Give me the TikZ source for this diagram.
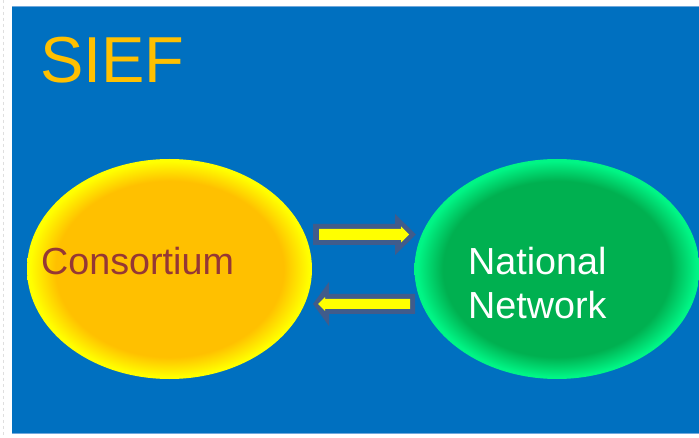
\documentclass[tikz,border=0pt]{standalone}
\usepackage{fontspec}
\setmainfont{Liberation Sans}
\usetikzlibrary{shapes.geometric}
\definecolor{bgblue}{HTML}{0070C0}
\definecolor{bgedge}{HTML}{6FA8DC}
\definecolor{orangeC}{HTML}{FFC000}
\definecolor{yellowC}{HTML}{FFFF00}
\definecolor{greenC}{HTML}{00B050}
\definecolor{greenEdge}{HTML}{00F585}
\definecolor{brownC}{HTML}{953735}
\definecolor{slateC}{HTML}{405C8C}
\pgfdeclareradialshading{ovalorange}{\pgfpoint{0bp}{0bp}}{color(0bp)=(orangeC); color(20bp)=(orangeC); color(24.5bp)=(yellowC); color(50bp)=(yellowC)}
\pgfdeclareradialshading{ovalgreen}{\pgfpoint{0bp}{0bp}}{color(0bp)=(greenC); color(20bp)=(greenC); color(24.5bp)=(greenEdge); color(50bp)=(greenEdge)}
\tikzset{
  oval/.style={ellipse, minimum width=285pt, minimum height=220pt, inner sep=0pt},
  bigtext/.style={font=\fontsize{37.7}{44}\selectfont, inner sep=0pt, anchor=base west},
  arrowout/.style={fill=slateC},
  arrowin/.style={fill=yellowC},
}
\begin{document}
\begin{tikzpicture}[x=1pt,y=-1pt]
\useasboundingbox (0,0) rectangle (699,438);
\fill[white] (0,0) rectangle (699,438);
\draw[gray!25, dashed, line width=0.8pt] (3,0) -- (3,438);
\fill[bgblue] (12,6) rectangle (699,433);
\draw[bgedge, line width=0.8pt] (12,6) -- (699,6);
\draw[bgedge, line width=0.8pt] (12,433) -- (699,433);

\node[font=\fontsize{65}{78}\selectfont, text=orangeC, inner sep=0pt, anchor=base west] (title) at (40,83) {SIEF};

\node[oval, shading=ovalorange] (cons) at (169.5,269) {};
\node[oval, shading=ovalgreen] (nat) at (557,269) {};

\node[bigtext, text=brownC] (consT) at (41,275) {Consortium};
\node[bigtext, text=white, align=left] (natT) at (468,319) {National\\Network};

% right-pointing arrow
\fill[arrowout] (313,224) -- (395,224) -- (395,214) -- (416,234.5) -- (395,255) -- (395,245) -- (313,245) -- cycle;
\fill[arrowin] (319,229) -- (401,229) -- (401,226.5) -- (409,234.5) -- (401,242.5) -- (401,240) -- (319,240) -- cycle;
% left-pointing arrow
\fill[arrowout] (415,294) -- (329,294) -- (329,282) -- (313,304) -- (329,326) -- (329,314) -- (415,314) -- cycle;
\fill[arrowin] (410,299) -- (325,299) -- (325,297) -- (318,304) -- (325,311) -- (325,309) -- (410,309) -- cycle;
\end{tikzpicture}
\end{document}
